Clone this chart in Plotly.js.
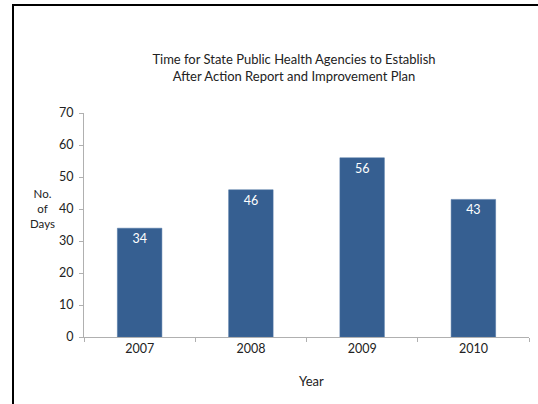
<!DOCTYPE html>
<html>
<head>
<meta charset="utf-8">
<script src="https://cdn.plot.ly/plotly-3.0.1.min.js"></script>
<style>
  html, body { margin: 0; padding: 0; background: #fff; }
  #chart { position: absolute; left: 0; top: 0; width: 538px; height: 404px; }
  #frame { position: absolute; left: 12px; top: 4px; width: 530px; height: 404px;
           border-left: 2px solid #000; border-top: 2px solid #000; pointer-events: none; }
</style>
</head>
<body>
<div id="chart"></div>
<div id="frame"></div>
<script>
const years = ["2007", "2008", "2009", "2010"];
const days = [34, 46, 56, 43];
const yTicks = [0, 10, 20, 30, 40, 50, 60, 70];
const titleLines = ["Time for State Public Health Agencies to Establish", "After Action Report and Improvement Plan"];
const yTitleLines = ["No.", "of", "Days"];
const xTitle = "Year";

const W = 538, H = 404;
const F = "Lato, 'Open Sans', sans-serif";

const trace = {
  type: "bar",
  x: years,
  y: days,
  marker: { color: "#365f91", line: { color: "#4a72a3", width: 0.5 } },
  text: days.map(String),
  textposition: "inside",
  insidetextanchor: "end",
  textfont: { family: F, size: 12.5, color: "#ffffff" },
  hoverinfo: "none"
};

const annotations = [{
  text: yTitleLines.join("<br>"), xref: "paper", yref: "paper",
  x: (42 - 84) / (529 - 84), y: (337 - 208) / (337 - 113),
  xanchor: "center", yanchor: "middle", showarrow: false, align: "center",
  font: { family: F, size: 11.5, color: "#222" }
}, {
  text: xTitle, xref: "paper", yref: "paper",
  x: (311 - 84) / (529 - 84), y: -(381 - 337) / (337 - 113),
  xanchor: "center", yanchor: "middle", showarrow: false,
  font: { family: F, size: 13, color: "#222" }
}];

const layout = {
  width: W, height: H,
  margin: { l: 84, r: 9, t: 113, b: 67, pad: 0 },
  paper_bgcolor: "#fff", plot_bgcolor: "#fff",
  showlegend: false,
  bargap: 0.6,
  title: {
    text: titleLines.join("<br>"),
    xref: "container", yref: "container",
    x: 294 / W, y: 1 - 64 / H, xanchor: "center", yanchor: "top",
    font: { family: F, size: 13, color: "#222" }
  },
  xaxis: {
    type: "category",
    showline: true, linecolor: "#b0b0b0", linewidth: 1,
    ticks: "outside", tickson: "boundaries", ticklen: 4, tickcolor: "#b0b0b0",
    showgrid: false, zeroline: false,
    tickfont: { family: F, size: 12.5, color: "#222" }
  },
  yaxis: {
    range: [0, 70], tickvals: yTicks,
    showline: true, linecolor: "#b0b0b0", linewidth: 1,
    ticks: "outside", ticklen: 4, tickcolor: "#b0b0b0",
    ticklabelstandoff: 3,
    showgrid: false, zeroline: false,
    tickfont: { family: F, size: 12.5, color: "#222" }
  },
  annotations: annotations
};

Plotly.newPlot("chart", [trace], layout, { staticPlot: true, displayModeBar: false });
</script>
</body>
</html>
